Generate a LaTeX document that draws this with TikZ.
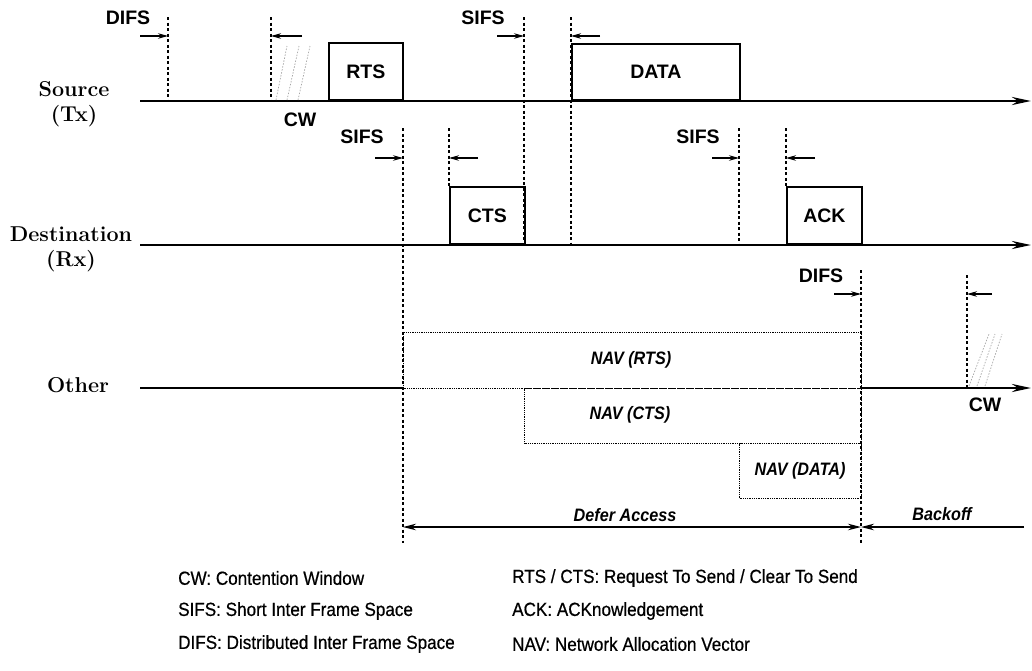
\documentclass[tikz,border=0pt]{standalone}
\usepackage{fontspec}
\setsansfont{Liberation Sans}
\newfontfamily\legendfont[FakeStretch=0.9,FakeBold=0.6]{Liberation Sans}
\newfontfamily\navfont[FakeStretch=0.9,BoldFont={Liberation Sans Bold},BoldItalicFont={Liberation Sans Bold Italic}]{Liberation Sans}
\usetikzlibrary{arrows.meta}
\begin{document}
\begin{tikzpicture}[x=1pt,y=-1pt,
  axis/.style={line width=2.8pt,-{Stealth[length=19pt,width=8pt]}},
  axisplain/.style={line width=2.8pt},
  framebox/.style={draw,line width=1.8pt,inner sep=0pt,anchor=south west,
    font=\sffamily\bfseries\fontsize{19.5}{19.5}\selectfont},
  navbox/.style={draw,line width=1.1pt,dash pattern=on 1pt off 0.8pt,inner sep=0pt,anchor=north west},
  vdash/.style={line width=1.3pt,dash pattern=on 3pt off 2.5pt},
  tickarr/.style={line width=1.1pt,-{Stealth[length=10pt,width=5.5pt]}},
  spanarr/.style={line width=1.6pt},
  lbl/.style={font=\sffamily\bfseries\fontsize{19.5}{19.5}\selectfont,inner sep=0pt},
  side/.style={font=\rmfamily\bfseries\fontsize{21.5}{25}\selectfont,align=center,inner sep=0pt},
  navlbl/.style={font=\navfont\bfseries\itshape\fontsize{18}{18}\selectfont,inner sep=0pt},
  legend/.style={font=\legendfont\fontsize{19}{19}\selectfont,anchor=west,inner sep=0pt},
  hatch/.style={black!35,line width=0.7pt,dash pattern=on 1.5pt off 1.5pt}]
\useasboundingbox (0,0) rectangle (1032,670);

% side labels
\node[side] (src) at (74,104) {Source\\(Tx)};
\node[side] (dst) at (71,249) {Destination\\(Rx)};
\node[side] (oth) at (78,385) {Other};

% axes
\coordinate (s0) at (140,101); \coordinate (s1) at (1031,101);
\coordinate (d0) at (140,245); \coordinate (d1) at (1031,245);
\coordinate (o0) at (140,388); \coordinate (oa) at (403,388);
\coordinate (ob) at (861,388); \coordinate (o1) at (1031,388);
\draw[axis] (s0) -- (s1);
\draw[axis] (d0) -- (d1);
\draw[axisplain] (o0) -- (oa);
\draw[axis] (ob) -- (o1);

% frames
\node[framebox,minimum width=74pt,minimum height=57pt] (rts) at (328,101) {RTS};
\node[framebox,minimum width=168pt,minimum height=56pt] (data) at (571,101) {DATA};
\node[framebox,minimum width=75pt,minimum height=57pt] (cts) at (449,245) {CTS};
\node[framebox,minimum width=75pt,minimum height=57pt] (ack) at (786,245) {ACK};

% NAV boxes
\node[navbox,minimum width=458pt,minimum height=56pt] (navrts) at (403,332) {};
\node[navbox,minimum width=337pt,minimum height=55pt] (navcts) at (524,388) {};
\node[navbox,minimum width=122pt,minimum height=55pt] (navdata) at (739,443) {};
\node[navlbl] (lrts) at (631,360) {NAV (RTS)};
\node[navlbl] (lcts) at (630,415) {NAV (CTS)};
\node[navlbl] (ldata) at (800,471) {NAV (DATA)};

% contention windows (hatched)
\draw[hatch] (276,100) -- (287,46);
\draw[hatch] (287,100) -- (299,46);
\draw[hatch] (298,100) -- (310,46);
\draw[hatch] (969,386) -- (989,334);
\draw[hatch] (977,386) -- (995,334);
\draw[hatch] (985,386) -- (1002,334);

% dashed time markers
\coordinate (v1a) at (168,17);  \coordinate (v1b) at (168,101);
\coordinate (v2a) at (271,17);  \coordinate (v2b) at (271,101);
\coordinate (v3a) at (403,128); \coordinate (v3b) at (403,543);
\coordinate (v4a) at (449,128); \coordinate (v4b) at (449,188);
\coordinate (v5a) at (524,17);  \coordinate (v5b) at (524,245);
\coordinate (v6a) at (571,17);  \coordinate (v6b) at (571,245);
\coordinate (v7a) at (739,128); \coordinate (v7b) at (739,245);
\coordinate (v8a) at (786,128); \coordinate (v8b) at (786,188);
\coordinate (v9a) at (861,270); \coordinate (v9b) at (861,543);
\coordinate (v10a) at (967,275); \coordinate (v10b) at (967,388);
\foreach \v in {1,...,10} \draw[vdash] (v\v a) -- (v\v b);

% interval arrows
\coordinate (t1) at (140,36);  \draw[tickarr] (t1) -- (168,36);
\coordinate (t2) at (302,36);  \draw[tickarr] (t2) -- (271,36);
\coordinate (t3) at (497,36);  \draw[tickarr] (t3) -- (524,36);
\coordinate (t4) at (600,36);  \draw[tickarr] (t4) -- (571,36);
\coordinate (t5) at (375,158); \draw[tickarr] (t5) -- (403,158);
\coordinate (t6) at (478,158); \draw[tickarr] (t6) -- (449,158);
\coordinate (t7) at (712,158); \draw[tickarr] (t7) -- (739,158);
\coordinate (t8) at (815,158); \draw[tickarr] (t8) -- (786,158);
\coordinate (t9) at (834,294); \draw[tickarr] (t9) -- (861,294);
\coordinate (t10) at (992,294); \draw[tickarr] (t10) -- (967,294);

% interval labels
\node[lbl] (difs1) at (128,18) {DIFS};
\node[lbl] (cw1) at (300,120) {CW};
\node[lbl] (sifs1) at (483,18) {SIFS};
\node[lbl] (sifs2) at (362,137) {SIFS};
\node[lbl] (sifs3) at (698,137) {SIFS};
\node[lbl] (difs2) at (821,276) {DIFS};
\node[lbl] (cw2) at (985,405) {CW};

% defer access / backoff
\coordinate (da) at (403,527); \coordinate (db) at (861,527); \coordinate (bo) at (1024,527);
\draw[spanarr,{Stealth[length=13pt,width=6.5pt]}-{Stealth[length=13pt,width=6.5pt]}] (da) -- (db);
\draw[spanarr,-{Stealth[length=13pt,width=6.5pt]}] (bo) -- (db);
\node[navlbl] (defer) at (625,515) {Defer Access};
\node[navlbl] (backoff) at (942,514) {Backoff};

% legend
\node[legend] (g1) at (178,578) {CW: Contention Window};
\node[legend] (g2) at (178,611) {SIFS: Short Inter Frame Space};
\node[legend] (g3) at (178,644) {DIFS: Distributed Inter Frame Space};
\node[legend] (g4) at (512,578) {RTS / CTS: Request To Send / Clear To Send};
\node[legend] (g5) at (512,611) {ACK: ACKnowledgement};
\node[legend] (g6) at (512,644) {NAV: Network Allocation Vector};
\end{tikzpicture}
\end{document}
